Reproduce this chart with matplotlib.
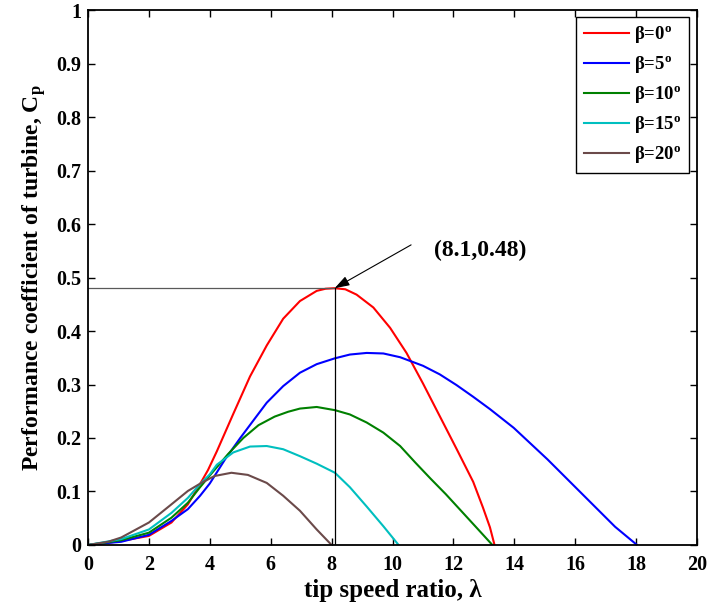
import matplotlib
matplotlib.use("Agg")
import matplotlib.pyplot as plt

# ── DATA ─────────────────────────────────────────────────────────────────────
LAMBDA_B0  = [0, 0.5, 1.09, 2.0, 2.74, 3.28, 3.61, 3.94, 4.23, 4.77, 5.32, 5.87, 6.41, 6.96,
              7.51, 7.8, 8.1, 8.45, 8.82, 9.37, 9.92, 10.46, 11.0, 11.55, 12.1, 12.65, 12.97, 13.2, 13.35]
CP_B0      = [0, 0.003, 0.0075, 0.017, 0.042, 0.076, 0.107, 0.14, 0.175, 0.245, 0.315, 0.373, 0.423, 0.456,
              0.475, 0.479, 0.48, 0.478, 0.468, 0.444, 0.406, 0.359, 0.302, 0.241, 0.18, 0.118, 0.07, 0.033, 0]

LAMBDA_B5  = [0, 0.5, 1.09, 2.0, 2.74, 3.28, 3.68, 4.0, 4.5, 5.0, 5.5, 5.87, 6.41, 6.96, 7.51,
              8.11, 8.6, 9.15, 9.7, 10.25, 11.0, 11.55, 12.1, 12.65, 13.2, 13.98, 15.09, 16.2,
              17.31, 18.03]
CP_B5      = [0, 0.003, 0.006, 0.019, 0.045, 0.067, 0.092, 0.115, 0.16, 0.2, 0.238, 0.266, 0.297, 0.322, 0.338,
              0.349, 0.356, 0.359, 0.358, 0.351, 0.335, 0.319, 0.299, 0.277, 0.254, 0.219, 0.16, 0.097,
              0.034, 0]

LAMBDA_B10 = [0, 0.5, 1.09, 2.0, 2.74, 3.28, 3.68, 4.0, 4.6, 5.1, 5.6, 6.13, 6.57, 6.96, 7.51,
              8.11, 8.6, 9.15, 9.7, 10.25, 10.75, 11.25, 11.75, 12.25, 12.75, 13.28]
CP_B10     = [0, 0.004, 0.009, 0.023, 0.051, 0.079, 0.108, 0.13, 0.17, 0.2, 0.224, 0.24, 0.249, 0.255, 0.258,
              0.252, 0.244, 0.229, 0.21, 0.185, 0.154, 0.124, 0.095, 0.064, 0.033, 0]

LAMBDA_B15 = [0, 0.5, 1.09, 2.0, 2.74, 3.28, 3.68, 4.0, 4.23, 4.77, 5.32, 5.87, 6.41, 6.96, 7.51,
              8.11, 8.6, 9.15, 9.7, 10.2]
CP_B15     = [0, 0.005, 0.011, 0.029, 0.06, 0.088, 0.114, 0.132, 0.15, 0.173, 0.184, 0.185, 0.179, 0.166, 0.152,
              0.135, 0.108, 0.072, 0.035, 0]

LAMBDA_B20 = [0, 0.66, 1.09, 2.0, 2.74, 3.28, 3.72, 4.16, 4.71, 5.25, 5.87, 6.41, 6.96, 7.51, 8.0]
CP_B20     = [0, 0.006, 0.014, 0.042, 0.076, 0.101, 0.116, 0.129, 0.135, 0.131, 0.116, 0.092, 0.064, 0.029, 0]

LABELS  = ["β=0", "β=5", "β=10", "β=15", "β=20"]
COLORS  = ["#ff0000", "#0000ff", "#008000", "#00bfbf", "#6b4a4a"]

PEAK_X, PEAK_Y = 8.1, 0.48
PEAK_TEXT = "(8.1,0.48)"
# ─────────────────────────────────────────────────────────────────────────────

plt.rcParams["font.family"] = "Liberation Serif"
plt.rcParams["font.weight"] = "bold"
plt.rcParams["mathtext.fontset"] = "custom"
plt.rcParams["mathtext.rm"] = "Liberation Serif:bold"
plt.rcParams["mathtext.bf"] = "Liberation Serif:bold"
plt.rcParams["mathtext.it"] = "Liberation Serif:bold"

fig = plt.figure(figsize=(7.08, 6.04), dpi=100)
ax = fig.add_axes([0.1243, 0.0977, 0.8602, 0.8857])

series = [(LAMBDA_B0, CP_B0), (LAMBDA_B5, CP_B5), (LAMBDA_B10, CP_B10),
          (LAMBDA_B15, CP_B15), (LAMBDA_B20, CP_B20)]
for (xs, ys), lab, col in zip(series, LABELS, COLORS):
    ax.plot(xs, ys, color=col, linewidth=1.5, label=lab + r"$^{\rm o}$")

# marker lines for the peak
ax.plot([0, PEAK_X], [PEAK_Y, PEAK_Y], color="0.35", linewidth=0.9)
ax.plot([PEAK_X, PEAK_X], [0, PEAK_Y], color="black", linewidth=0.9)
ax.annotate("", xy=(PEAK_X, PEAK_Y), xytext=(10.61, 0.561),
            arrowprops=dict(arrowstyle="-|>,head_length=0.9,head_width=0.3",
                            color="black", lw=0.8, shrinkA=0, shrinkB=0))
ax.text(12.87, 0.55, PEAK_TEXT, fontsize=17, fontweight="bold",
        ha="center", va="center")

ax.set_xlim(0, 20)
ax.set_ylim(0, 1)
ax.set_xticks(range(0, 21, 2))
ax.set_yticks([i / 10 for i in range(11)])
ax.set_yticklabels(["0", "0.1", "0.2", "0.3", "0.4", "0.5", "0.6", "0.7", "0.8", "0.9", "1"])
ax.tick_params(direction="in", top=True, right=True, length=5, width=1,
               labelsize=14.5)
ax.tick_params(axis="x", pad=7)
ax.tick_params(axis="y", pad=5)
for lab in ax.get_xticklabels() + ax.get_yticklabels():
    lab.set_fontweight("bold")
for s in ax.spines.values():
    s.set_linewidth(1.3)

ax.set_xlabel("tip speed ratio, λ", fontsize=18, fontweight="bold", labelpad=3)
ax.set_ylabel(r"Performance coefficient of turbine, C$_{\rm p}$", fontsize=17,
              fontweight="bold", labelpad=6)

leg = ax.legend(loc="upper right", fontsize=13.5, handlelength=2.45, handletextpad=0.25,
                labelspacing=0.48, borderpad=0.4, fancybox=False, framealpha=1,
                edgecolor="black", borderaxespad=0, bbox_to_anchor=(0.987, 0.987))
leg.get_frame().set_linewidth(1.0)
for t in leg.get_texts():
    t.set_fontweight("bold")

plt.savefig("out.png", dpi=100)
